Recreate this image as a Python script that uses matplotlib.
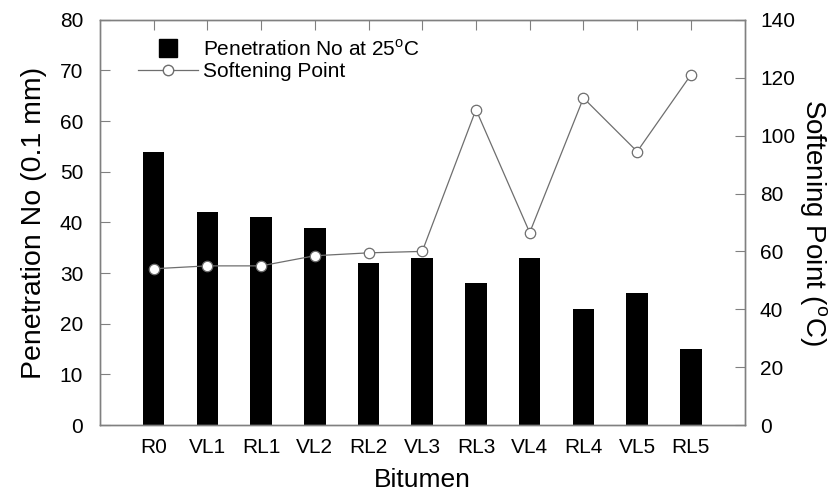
import numpy as np
import matplotlib.pyplot as plt
from matplotlib.lines import Line2D

plt.rcParams['font.family'] = ['Liberation Sans', 'DejaVu Sans']

bitumen = ['R0', 'VL1', 'RL1', 'VL2', 'RL2', 'VL3', 'RL3', 'VL4', 'RL4', 'VL5', 'RL5']
penetration = [54, 42, 41, 39, 32, 33, 28, 33, 23, 26, 15]
softening = [54, 55, 55, 58.5, 59.5, 60, 109, 66.5, 113, 94.5, 121]

x = np.arange(len(bitumen))
spine_col = '#808080'
line_col = '#6e6e6e'

fig = plt.figure(figsize=(8.32, 4.96), dpi=100)
ax = fig.add_axes([0.12, 0.143, 0.775, 0.817])
ax2 = ax.twinx()

ax.bar(x, penetration, width=0.4, color='black', zorder=2)
ax.set_xlim(-1, 11)
ax.set_ylim(0, 80)
ax.set_yticks(np.arange(0, 81, 10))
ax.set_xticks(x)
ax.set_xticklabels(bitumen)
ax.set_xlabel('Bitumen', fontsize=19, labelpad=8)
ax.set_ylabel('Penetration No (0.1 mm)', fontsize=20.5, labelpad=9)

ax2.plot(x, softening, color=line_col, lw=0.9, marker='o', ms=7.5,
         mfc='white', mec=line_col, mew=0.9, zorder=3)
ax2.set_ylim(0, 140)
ax2.set_yticks(np.arange(0, 141, 20))
ax2.set_ylabel('Softening Point ($^\\mathregular{o}$C)', fontsize=20,
               rotation=270, labelpad=24)

for a in (ax, ax2):
    for s in a.spines.values():
        s.set_color(spine_col)
        s.set_linewidth(1.0)
ax.tick_params(axis='both', direction='in', length=7, color=spine_col,
               labelsize=15, top=True, pad=12)
ax.tick_params(axis='x', pad=9)
ax2.tick_params(axis='y', direction='in', length=7, color=spine_col,
                labelsize=15, pad=11)

handles = [Line2D([], [], ls='none', marker='s', ms=13, color='black'),
           Line2D([], [], color=line_col, lw=0.9, marker='o', ms=7.5,
                  mfc='white', mec=line_col)]
labels = ['Penetration No at 25$^\\mathregular{o}$C', 'Softening Point']
ax2.legend(handles, labels, loc='upper left', bbox_to_anchor=(0.03, 1.0),
           frameon=False, fontsize=15, handlelength=2.9, handletextpad=0.2,
           labelspacing=0.15)

fig.savefig('out.png', dpi=100)
